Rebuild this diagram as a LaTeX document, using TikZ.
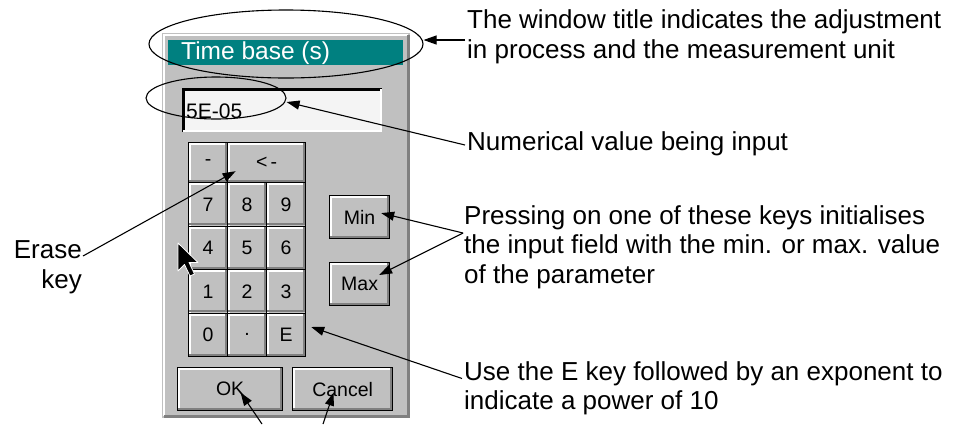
\documentclass[tikz,border=0pt]{standalone}
\usepackage{fontspec}
\setmainfont{Liberation Sans}
\usetikzlibrary{shapes.geometric,arrows.meta}
\definecolor{winGray}{HTML}{C0C0C0}
\definecolor{winDark}{HTML}{808080}
\definecolor{winTeal}{HTML}{008080}
\definecolor{fieldWhite}{HTML}{F4F4F4}
\newcommand{\keyfont}{\fontsize{19.5}{19.5}\selectfont}
\newcommand{\notefont}{\fontsize{26}{29.5}\selectfont}

\begin{document}
\begin{tikzpicture}[x=1pt, y=-1pt,
    key/.style={rectangle, draw=black, line width=1.2pt, fill=winGray, inner sep=0pt,
      font=\keyfont, anchor=north west,
      path picture={
        \draw[white, line width=2.5pt]
          ([xshift=1.5pt]path picture bounding box.south west)
          |- ([yshift=-1.5pt]path picture bounding box.north east);
        \draw[winDark, line width=2pt]
          ([yshift=2pt]path picture bounding box.south west)
          -| ([xshift=-2pt]path picture bounding box.north east);
      }},
    note/.style={anchor=base west, align=left, inner sep=0pt, font=\notefont},
    callout/.style={line width=1.1pt, -{Triangle[length=13pt,width=9pt]}},
    ring/.style={draw, ellipse, line width=1.1pt, inner sep=0pt}
  ]
  \useasboundingbox (0,0) rectangle (960,424);

  % window
  \fill[winGray] (162,33) rectangle (410,418);
  \draw[white, line width=2pt] (164,416) -- (164,35) -- (408,35);
  \draw[winDark, line width=3pt] (164,416.5) -- (408.5,416.5) -- (408.5,35);
  \fill[winTeal] (168,40) rectangle (403,65);
  \node (title) [anchor=west, inner sep=0pt, text=white,
    font=\fontsize{24.5}{24.5}\selectfont] at (181,53) {Time base (s)};

  \node (field) [rectangle, fill=fieldWhite, minimum width=200, minimum height=44,
    anchor=north west, inner sep=0pt] at (182,88) {};
  \draw[black, line width=3pt] (183.5,132) -- (183.5,89.5) -- (382,89.5);
  \draw[white, line width=2pt] (183,131) -- (381,131) -- (381,89);
  \node (value) [anchor=west, inner sep=0pt, font=\fontsize{21}{21}\selectfont]
    at (186,111) {5E-05};

  % keypad
  \node (kMinus) [key, minimum width=39, minimum height=40] at (188,142) {-};
  \node (kBack) [key, minimum width=78, minimum height=40] at (227,142) {<\kern3pt-};
  \node (k7) [key, minimum width=39, minimum height=43.5] at (188,182) {7};
  \node (k8) [key, minimum width=39, minimum height=43.5] at (227,182) {8};
  \node (k9) [key, minimum width=39, minimum height=43.5] at (266,182) {9};
  \node (k4) [key, minimum width=39, minimum height=43.5] at (188,225.5) {4};
  \node (k5) [key, minimum width=39, minimum height=43.5] at (227,225.5) {5};
  \node (k6) [key, minimum width=39, minimum height=43.5] at (266,225.5) {6};
  \node (k1) [key, minimum width=39, minimum height=43.5] at (188,269) {1};
  \node (k2) [key, minimum width=39, minimum height=43.5] at (227,269) {2};
  \node (k3) [key, minimum width=39, minimum height=43.5] at (266,269) {3};
  \node (k0) [key, minimum width=39, minimum height=43.5] at (188,312.5) {0};
  \node (kDot) [key, minimum width=39, minimum height=43.5] at (227,312.5) {.};
  \node (kE) [key, minimum width=39, minimum height=43.5] at (266,312.5) {E};

  \node (kMin) [key, minimum width=60, minimum height=43] at (329,195) {Min};
  \node (kMax) [key, minimum width=60, minimum height=43] at (329,262) {Max};
  \node (kOK) [key, minimum width=105, minimum height=43] at (177,367) {OK};
  \node (kCancel) [key, minimum width=100, minimum height=43] at (292,367) {Cancel};

  % mouse pointer
  \draw[white, fill=black, line width=0.8pt, line join=round]
    (178,243) -- (178,271) -- (184.5,264.5) -- (190,276) -- (194.5,274)
    -- (189,262.5) -- (198,262.5) -- cycle;

  % rings
  \node (titleRing) [ring, minimum width=274, minimum height=68] at (286,44) {};
  \node (valueRing) [ring, minimum width=140, minimum height=42] at (216,98) {};

  % notes
  \node (titleNote) [note] at (467,58)
    {The window title indicates the adjustment\\in process and the measurement unit};
  \node (valueNote) [note] at (467,150) {Numerical value being input};
  \node (rangeNote) [note] at (464,283)
    {Pressing on one of these keys initialises\\the input field with the min. or max. value\\of the parameter};
  \node (powerNote) [note] at (464,409.5)
    {Use the E key followed by an exponent to\\indicate a power of 10};
  \node (eraseNote) [note, align=right, anchor=base east] at (82,288) {Erase\\key};

  \coordinate (rangeFork) at (463,233);
  \coordinate (okTail) at (262,424);
  \coordinate (cancelTail) at (323,424);

  % callouts
  \draw[callout] ([shift={(-2,-18)}]titleNote.base west) -- (titleRing.east |- 0,40);
  \draw[callout] ([shift={(-2,-5)}]valueNote.base west) -- ([yshift=-4pt]valueRing.east);
  \draw[callout] (rangeFork) -- ([xshift=-9pt,yshift=4pt]kMin.east);
  \draw[callout] (rangeFork) -- ([xshift=-11pt,yshift=-13pt]kMax.north east);
  \draw[callout] ([shift={(-2,-31)}]powerNote.base west) -- ([xshift=5pt,yshift=-14.5pt]kE.north east);
  \draw[callout] ([shift={(1,-32)}]eraseNote.base east) -- ([xshift=-31pt,yshift=12pt]kBack.south);
  \draw[callout] (okTail) -- ([xshift=10.5pt,yshift=-3.5pt]kOK.center);
  \draw[callout] (cancelTail) -- ([xshift=-9pt,yshift=-3.5pt]kCancel.center);
\end{tikzpicture}
\end{document}
